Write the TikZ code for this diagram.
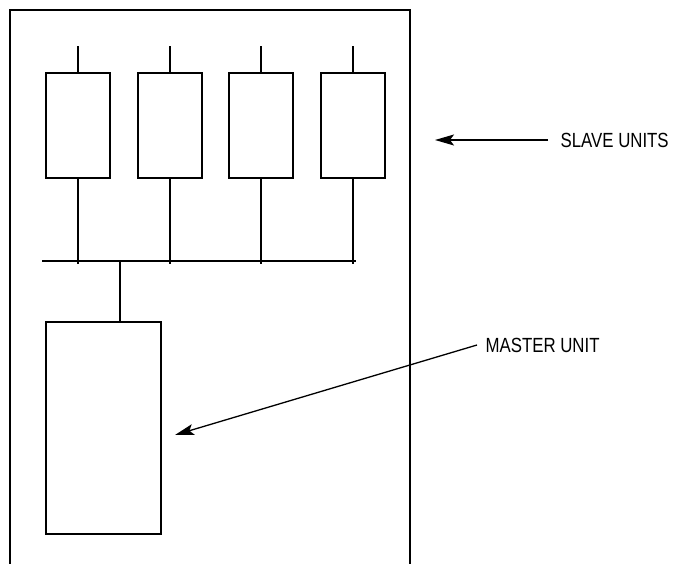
\documentclass[tikz,border=0pt]{standalone}
\usepackage{fontspec}
\setmainfont[FakeStretch=0.82]{Liberation Sans}
\usetikzlibrary{arrows.meta, positioning}

\begin{document}
\begin{tikzpicture}[
  x=1pt, y=-1pt,
  line width=1.3pt,
  slavebox/.style={draw, minimum width=64pt, minimum height=105pt, inner sep=0pt},
  masterbox/.style={draw, minimum width=115pt, minimum height=212pt, inner sep=0pt},
  lbl/.style={anchor=west, inner sep=0pt, font=\fontsize{20.5}{24}\selectfont},
  pointer/.style={-{Stealth[length=19pt, width=11pt, inset=4pt]}}
]
  \useasboundingbox (0,0) rectangle (675,564);

  % cabinet outline, open at the bottom
  \draw (10,564) -- (10,10) -- (410,10) -- (410,564);

  % slave units
  \node[slavebox] (slaveA) at (78,125.5) {};
  \node[slavebox] (slaveB) at (170,125.5) {};
  \node[slavebox] (slaveC) at (261,125.5) {};
  \node[slavebox] (slaveD) at (353,125.5) {};
  \draw (slaveA.north) -- ++(0,-26);
  \draw (slaveB.north) -- ++(0,-26);
  \draw (slaveC.north) -- ++(0,-26);
  \draw (slaveD.north) -- ++(0,-26);

  % bus
  \coordinate (busL) at (42,261);
  \coordinate (busR) at (356,261);
  \draw (busL) -- (busR);
  \draw (slaveA.south) -- ([yshift=-3pt]slaveA.south |- busL);
  \draw (slaveB.south) -- ([yshift=-3pt]slaveB.south |- busL);
  \draw (slaveC.south) -- ([yshift=-3pt]slaveC.south |- busL);
  \draw (slaveD.south) -- ([yshift=-3pt]slaveD.south |- busL);

  % master unit
  \node[masterbox] (master) at (103.5,428) {};
  \coordinate (tap) at (120,261);
  \draw (tap) -- (tap |- master.north);

  % labels
  \node[lbl] (slavelbl) at (560,140) {SLAVE UNITS};
  \node[lbl] (masterlbl) at (485,345) {MASTER UNIT};
  \coordinate (slavetip) at (435,140);
  \coordinate (mastertip) at (175,435);
  \draw[pointer] ([xshift=-12pt]slavelbl.west) -- (slavetip);
  \draw[pointer] ([xshift=-8pt]masterlbl.west) -- (mastertip);
\end{tikzpicture}
\end{document}
